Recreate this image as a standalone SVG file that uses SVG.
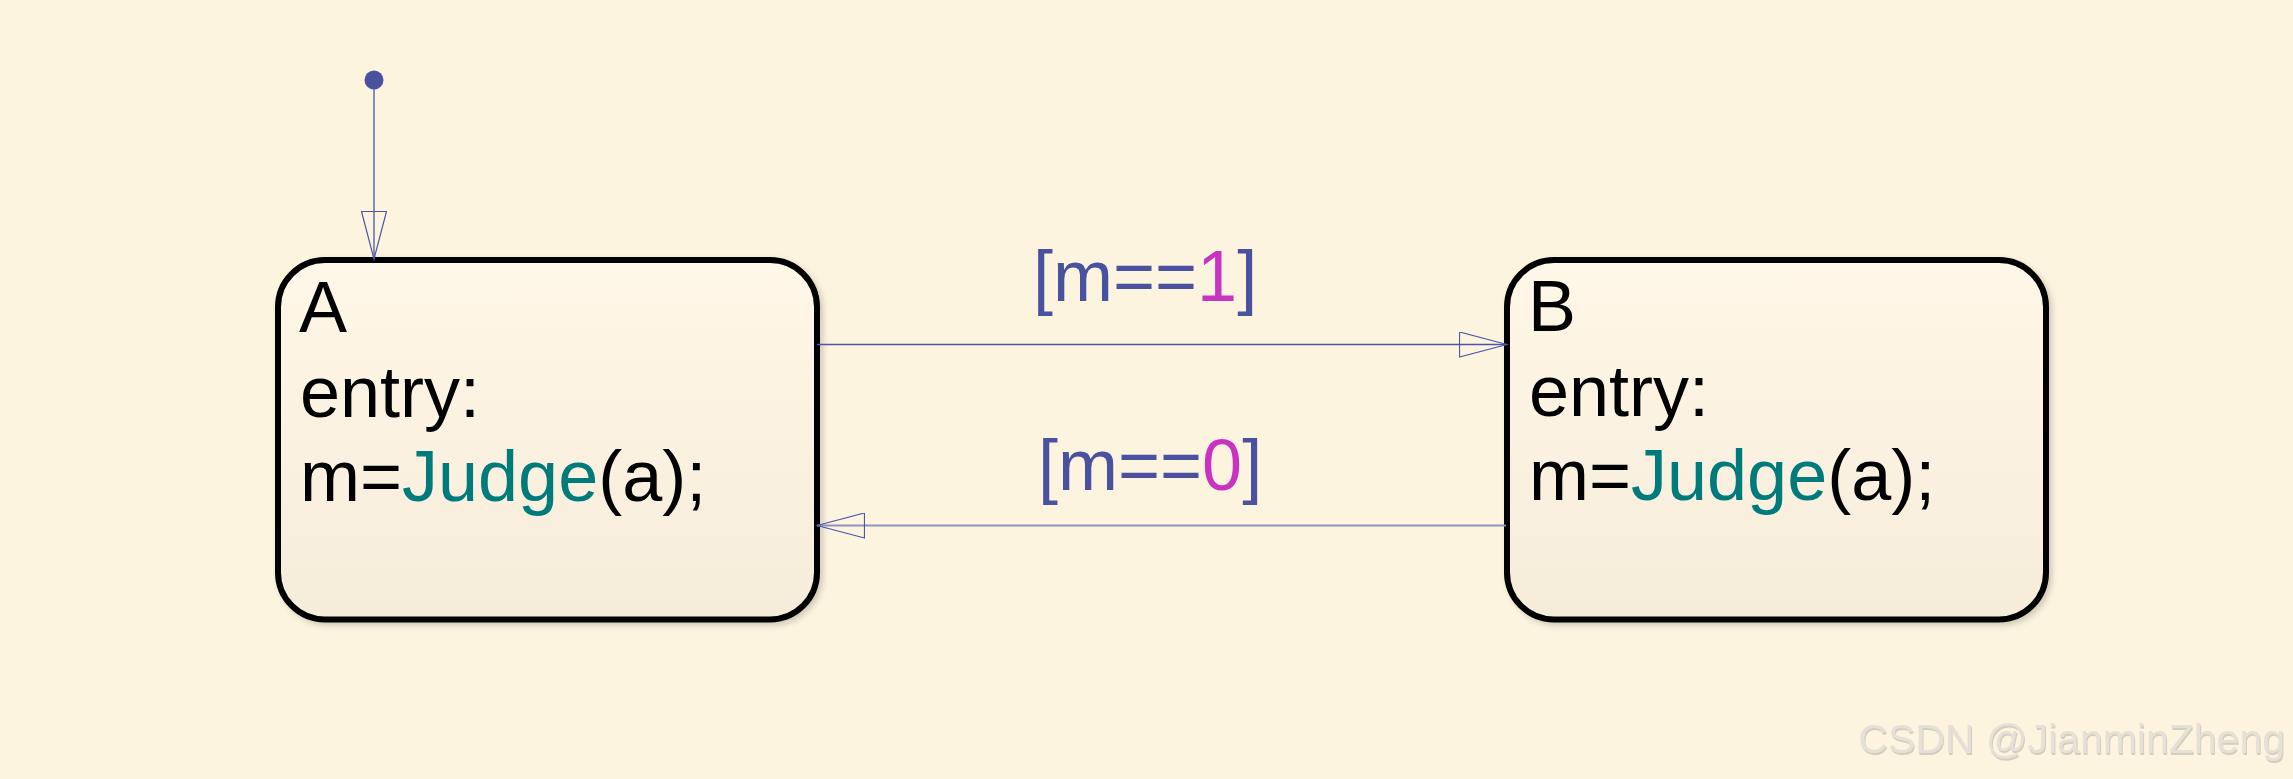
<svg xmlns="http://www.w3.org/2000/svg" width="2293" height="779" viewBox="0 0 2293 779">
<defs>
<linearGradient id="stateFill" x1="0" y1="0" x2="0" y2="1">
<stop offset="0" stop-color="#fff7e7"/>
<stop offset="1" stop-color="#f6ecda"/>
</linearGradient>
<filter id="shadow" x="-5%" y="-5%" width="110%" height="115%">
<feGaussianBlur in="SourceAlpha" stdDeviation="3"/>
<feOffset dx="3" dy="3" result="b"/>
<feComponentTransfer><feFuncA type="linear" slope="0.18"/></feComponentTransfer>
<feMerge><feMergeNode/><feMergeNode in="SourceGraphic"/></feMerge>
</filter>
<filter id="emboss" x="-2%" y="-20%" width="104%" height="140%">
<feOffset in="SourceAlpha" dx="1" dy="1.5" result="o"/>
<feFlood flood-color="#b8b4a8" flood-opacity="0.6"/>
<feComposite in2="o" operator="in"/>
<feMerge><feMergeNode/><feMergeNode in="SourceGraphic"/></feMerge>
</filter>
<marker id="openArrow" markerUnits="userSpaceOnUse" markerWidth="50" markerHeight="26" refX="48" refY="13" orient="auto" viewBox="0 0 50 26">
<path d="M0.5,0.5 L48,13 L0.5,25.5 Z" fill="none" stroke="#4a56a6" stroke-width="1.2"/>
</marker>
</defs>
<style>
.state { fill: url(#stateFill); stroke: #000; stroke-width: 6; filter: url(#shadow); }
.stext { font-family: "Liberation Sans", Arial, sans-serif; font-size: 72px; fill: #000; }
.fn { fill: #007b7b; }
.label { font-family: "Liberation Sans", Arial, sans-serif; font-size: 72px; fill: #4a52a0; }
.num { fill: #c834bf; }
.conn { fill: none; stroke: #4a56a6; stroke-width: 1.3; }
.conn2 { fill: none; stroke: #8f92bc; stroke-width: 2.2; }
.wm { font-family: "Liberation Sans", Arial, sans-serif; font-size: 41px; fill: #e6e1d6; }
</style>
<rect x="0" y="0" width="2293" height="779" fill="#fdf4e0"/>

<g id="stateA">
<rect class="state" x="278" y="260" width="539" height="359.5" rx="47" ry="47"/>
<text class="stext" x="299" y="332">A</text>
<text class="stext" x="300" y="417">entry:</text>
<text class="stext" x="300" y="501">m=<tspan class="fn">Judge</tspan>(a);</text>
</g>

<g id="stateB">
<rect class="state" x="1507" y="260" width="539" height="359.5" rx="47" ry="47"/>
<text class="stext" x="1528" y="331">B</text>
<text class="stext" x="1529" y="416">entry:</text>
<text class="stext" x="1529" y="500">m=<tspan class="fn">Judge</tspan>(a);</text>
</g>

<g id="initial">
<circle cx="374" cy="80" r="9.5" fill="#4a52a0"/>
</g>

<g id="connectors">
<line class="conn" x1="374" y1="86" x2="374" y2="259" marker-end="url(#openArrow)"/>
<line class="conn" x1="817" y1="344.5" x2="1507" y2="344.5" marker-end="url(#openArrow)"/>
<line class="conn2" x1="1506" y1="525.5" x2="817" y2="525.5" marker-end="url(#openArrow)"/>
</g>

<g id="labels">
<text class="label" x="1033" y="301">[m==<tspan class="num">1</tspan>]</text>
<text class="label" x="1038" y="490">[m==<tspan class="num">0</tspan>]</text>
</g>

<text class="wm" x="2285" y="753" text-anchor="end" filter="url(#emboss)">CSDN @JianminZheng</text>
</svg>
